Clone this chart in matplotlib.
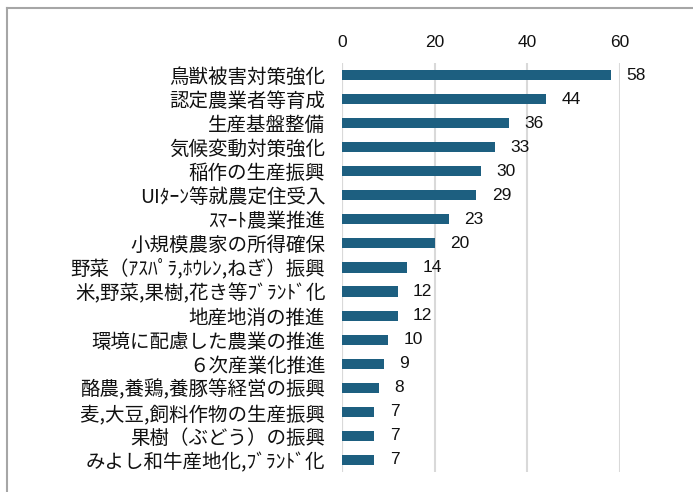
import matplotlib
matplotlib.use("Agg")
import matplotlib.pyplot as plt
from matplotlib.lines import Line2D

plt.rcParams["font.family"] = ["Noto Sans CJK JP", "DejaVu Sans"]

labels = [
    "鳥獣被害対策強化",
    "認定農業者等育成",
    "生産基盤整備",
    "気候変動対策強化",
    "稲作の生産振興",
    "UIﾀｰﾝ等就農定住受入",
    "ｽﾏｰﾄ農業推進",
    "小規模農家の所得確保",
    "野菜（ｱｽﾊﾟﾗ,ﾎｳﾚﾝ,ねぎ）振興",
    "米,野菜,果樹,花き等ﾌﾞﾗﾝﾄﾞ化",
    "地産地消の推進",
    "環境に配慮した農業の推進",
    "６次産業化推進",
    "酪農,養鶏,養豚等経営の振興",
    "麦,大豆,飼料作物の生産振興",
    "果樹（ぶどう）の振興",
    "みよし和牛産地化,ﾌﾞﾗﾝﾄﾞ化",
]
values = [58, 44, 36, 33, 30, 29, 23, 20, 14, 12, 12, 10, 9, 8, 7, 7, 7]
xticks = [0, 20, 40, 60]

num_font = ["Liberation Sans", "DejaVu Sans"]

fig = plt.figure(figsize=(6.93, 4.92), dpi=100)
ax = fig.add_axes([0.4935, 0.0407, 0.4012, 0.8313])

ypos = list(range(len(labels)))
ax.barh(ypos, values, height=0.42, color="#1d5f80", zorder=3)
for y, v in zip(ypos, values):
    ax.annotate(str(v), (v, y), xytext=(11, 0), textcoords="offset points",
                va="center", ha="left", fontsize=12.5, color="#111111",
                family=num_font)

ax.set_xlim(0, 60)
ax.set_ylim(len(labels) - 0.5, -0.5)
ax.set_xticks(xticks)
ax.set_xticklabels([str(t) for t in xticks], family=num_font, fontsize=12.5,
                   color="#111111")
ax.set_yticks(ypos)
ax.set_yticklabels(labels, fontsize=14, color="#111111")
ax.xaxis.tick_top()
ax.tick_params(axis="x", length=0, pad=9)
ax.tick_params(axis="y", length=0, pad=12)
ax.grid(axis="x", color="#d9d9d9", linewidth=1.5, zorder=0)
ax.grid(axis="y", visible=False)
for s in ax.spines.values():
    s.set_visible(False)
ax.axvline(0, color="#d9d9d9", linewidth=1.5, zorder=1)

# outer frame (top and left edges only visible)
fig.add_artist(Line2D([0.0108, 0.0108], [0, 0.9837], color="#a6a6a6", linewidth=1.5))
fig.add_artist(Line2D([0.0108, 1], [0.9837, 0.9837], color="#a6a6a6", linewidth=1.5))

fig.savefig("out.png", dpi=100)
